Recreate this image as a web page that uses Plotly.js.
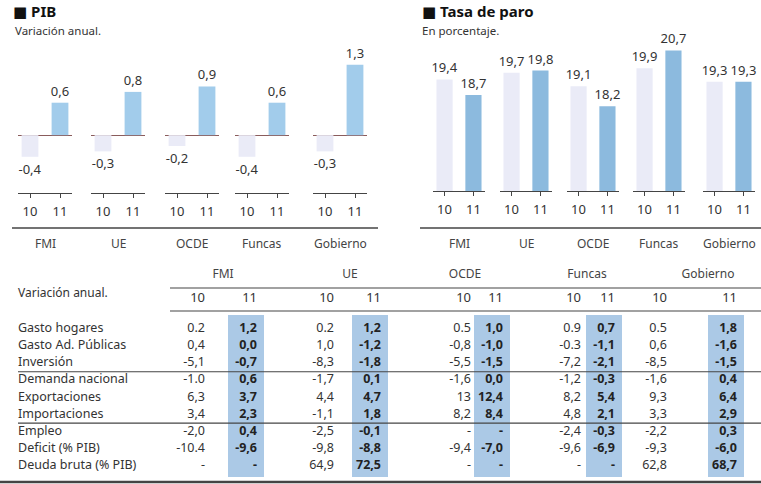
<!DOCTYPE html>
<html><head><meta charset="utf-8">
<script src="https://cdn.plot.ly/plotly-3.0.1.min.js"></script>
<style>html,body{margin:0;padding:0;background:#fff}#chart{width:761px;height:484px}</style>
</head><body><div id="chart"></div>
<script>
// ---------- DATA ----------
const groups = ['FMI', 'UE', 'OCDE', 'Funcas', 'Gobierno'];
const years = ['10', '11'];
const pib10 = [-0.4, -0.3, -0.2, -0.4, -0.3];
const pib11 = [0.6, 0.8, 0.9, 0.6, 1.3];
const paro10 = [19.4, 19.7, 19.1, 19.9, 19.3];
const paro11 = [18.7, 19.8, 18.2, 20.7, 19.3];

const rowLabels = ['Gasto hogares', 'Gasto Ad. Públicas', 'Inversión', 'Demanda nacional',
  'Exportaciones', 'Importaciones', 'Empleo', 'Deficit (% PIB)', 'Deuda bruta (% PIB)'];
const fmi10 = ['0.2', '0,4', '-5,1', '-1.0', '6,3', '3,4', '-2,0', '-10.4', '-'];
const fmi11 = ['1,2', '0,0', '-0,7', '0,6', '3,7', '2,3', '0,4', '-9,6', '-'];
const ue10 = ['0.2', '1,0', '-8,3', '-1,7', '4,4', '-1,1', '-2,5', '-9,8', '64,9'];
const ue11 = ['1,2', '-1,2', '-1,8', '0,1', '4,7', '1,8', '-0,1', '-8,8', '72,5'];
const ocde10 = ['0.5', '-0,8', '-5,5', '-1,6', '13', '8,2', '-', '-9,4', '-'];
const ocde11 = ['1,0', '-1,0', '-1,5', '0,0', '12,4', '8,4', '-', '-7,0', '-'];
const funcas10 = ['0.9', '-0.3', '-7,2', '-1,2', '8,2', '4,8', '-2,4', '-9,6', '-'];
const funcas11 = ['0,7', '-1,1', '-2,1', '-0,3', '5,4', '2,1', '-0,3', '-6,9', '-'];
const gob10 = ['0.5', '0,6', '-8,5', '-1,6', '9,3', '3,3', '-2,2', '-9,3', '62,8'];
const gob11 = ['1,8', '-1,6', '-1,5', '0,4', '6,4', '2,9', '0,3', '-6,0', '68,7'];
const table10 = [fmi10, ue10, ocde10, funcas10, gob10];
const table11 = [fmi11, ue11, ocde11, funcas11, gob11];
const rowBreaks = [2.5, 5.5];   // rules after Inversión and Importaciones

// ---------- LAYOUT CONSTANTS ----------
const W = 761, H = 484;
const FONT = 'Noto Sans, DejaVu Sans, sans-serif';
const TXT = '#333';
const C10 = '#eaebf7', C11pib = '#a2cceb', C11paro = '#8cbade', CTAB = '#abc9e6';
const px = p => p / W, py = p => 1 - p / H;
const pibDom = [[18, 72], [91, 145], [165, 219], [235, 289], [313, 367]];
const paroDom = [[433, 485], [500, 552], [567, 619], [633, 685], [703, 755]];
const colR10 = [205, 334, 471, 581, 667];
const colR11 = [257, 381, 503, 615, 737];
const headC = [223, 350, 465, 587, 708];
const rowY = p => (p - 329) / 17.1;   // pixel row -> table coordinate

const data = [];
const layout = {
  width: W, height: H, margin: {l: 0, r: 0, t: 0, b: 0},
  paper_bgcolor: '#fff', plot_bgcolor: 'rgba(0,0,0,0)',
  showlegend: false, separators: ',.',
  font: {family: FONT, color: TXT, size: 12},
  annotations: [], shapes: []
};

function addPanel(vals10, vals11, doms, yRange, yPix, offset, c11, zeroline) {
  doms.forEach((d, i) => {
    const n = offset + i + 1;
    const xa = 'x' + n, ya = 'y' + n;
    data.push({
      type: 'bar', x: years, y: [vals10[i], vals11[i]], xaxis: xa, yaxis: ya,
      marker: {color: [C10, c11], line: {width: 0}}, width: 0.56,
      texttemplate: '%{y:.1f}', textposition: 'outside', cliponaxis: false, constraintext: 'none',
      textfont: {size: 13, color: TXT, family: FONT}, hoverinfo: 'skip'
    });
    layout['xaxis' + n] = {
      domain: [px(d[0]), px(d[1])], anchor: ya, type: 'category',
      range: [-0.4, 1.4], showline: true, linecolor: '#444', linewidth: 1,
      ticks: 'outside', ticklen: 4, tickcolor: '#444', ticklabelstandoff: 2,
      tickfont: {size: 13, color: TXT}, showgrid: false, zeroline: false, fixedrange: true
    };
    layout['yaxis' + n] = {
      domain: [py(yPix[1]), py(yPix[0])], anchor: xa, range: yRange,
      showgrid: false, showticklabels: false, showline: false, ticks: '',
      zeroline: zeroline, zerolinecolor: '#8a5c5c', zerolinewidth: 1, fixedrange: true
    };
    layout.annotations.push({
      xref: xa + ' domain', x: 0.5, yref: 'paper', y: py(243), text: groups[i],
      showarrow: false, font: {size: 12, color: '#444'}, xanchor: 'center', yanchor: 'middle'
    });
  });
}
addPanel(pib10, pib11, pibDom, [-1.07, 1.76], [40, 193], 0, C11pib, true);
addPanel(paro10, paro11, paroDom, [14.4, 21.17], [40, 191], 5, C11paro, false);

// panel titles
[[12, 11, '■ PIB', 15, true], [14, 31, 'Variación anual.', 11.5, false],
 [421, 11, '■ Tasa de paro', 15, true], [421, 31, 'En porcentaje.', 11.5, false]].forEach(t => {
  layout.annotations.push({
    xref: 'paper', yref: 'paper', x: px(t[0]), y: py(t[1]), xanchor: 'left', yanchor: 'middle',
    text: t[4] ? '<b>' + t[2] + '</b>' : t[2], showarrow: false, borderpad: 0,
    font: {size: t[3], color: t[4] ? '#111' : TXT}
  });
});
// separators under panels
layout.shapes.push({type: 'line', xref: 'paper', yref: 'paper', x0: px(12), x1: px(378), y0: py(228), y1: py(228), line: {color: '#444', width: 1.5}});
layout.shapes.push({type: 'line', xref: 'paper', yref: 'paper', x0: px(420), x1: 1, y0: py(228), y1: py(228), line: {color: '#444', width: 1.5}});

// ---------- TABLE ----------
const TX = 'x11', TY = 'y11';
layout.xaxis11 = {domain: [0, 1], range: [0, W], anchor: TY, visible: false, fixedrange: true};
layout.yaxis11 = {domain: [0, py(262)], range: [rowY(484), rowY(262)], anchor: TX, visible: false, fixedrange: true};
const idx = rowLabels.map((_, i) => i);

data.push({type: 'scatter', mode: 'text', xaxis: TX, yaxis: TY, x: idx.map(() => 18), y: idx,
  text: rowLabels, textposition: 'middle right', textfont: {size: 12.5, color: TXT}, hoverinfo: 'skip', cliponaxis: false});
data.push({type: 'scatter', mode: 'text', xaxis: TX, yaxis: TY, x: [18], y: [rowY(294)],
  text: ['Variación anual.'], textposition: 'middle right', textfont: {size: 12, color: TXT}, hoverinfo: 'skip', cliponaxis: false});
data.push({type: 'scatter', mode: 'text', xaxis: TX, yaxis: TY, x: headC, y: groups.map(() => rowY(275)),
  text: groups, textposition: 'middle center', textfont: {size: 12, color: '#444'}, hoverinfo: 'skip', cliponaxis: false});
groups.forEach((g, i) => {
  data.push({type: 'scatter', mode: 'text', xaxis: TX, yaxis: TY, x: [colR10[i], colR11[i]], y: [rowY(299), rowY(299)],
    text: years, textposition: 'middle left', textfont: {size: 13, color: TXT}, hoverinfo: 'skip', cliponaxis: false});
  data.push({type: 'scatter', mode: 'text', xaxis: TX, yaxis: TY, x: idx.map(() => colR10[i]), y: idx,
    text: table10[i], textposition: 'middle left', textfont: {size: 12.5, color: TXT}, hoverinfo: 'skip', cliponaxis: false});
  data.push({type: 'scatter', mode: 'text', xaxis: TX, yaxis: TY, x: idx.map(() => colR11[i]), y: idx,
    text: table11[i].map(s => '<b>' + s + '</b>'), textposition: 'middle left', textfont: {size: 12.5, color: '#222'}, hoverinfo: 'skip', cliponaxis: false});
  layout.shapes.push({type: 'rect', xref: TX, yref: TY, x0: colR11[i] - 29, x1: colR11[i] + 7,
    y0: rowY(315), y1: rowY(477), fillcolor: CTAB, line: {width: 0}, layer: 'below'});
});
const hline = (y, x0, w) => ({type: 'line', xref: TX, yref: TY, x0: x0, x1: W, y0: y, y1: y, line: {color: '#444', width: w}});
layout.shapes.push(hline(rowY(288), 170, 1.2));
layout.shapes.push(hline(rowY(311), 170, 1.2));
rowBreaks.forEach(b => layout.shapes.push(hline(b, 18, 1.2)));
layout.shapes.push(hline(rowY(482), 0, 2.5));

Plotly.newPlot('chart', data, layout, {staticPlot: true, displayModeBar: false});
</script></body></html>
